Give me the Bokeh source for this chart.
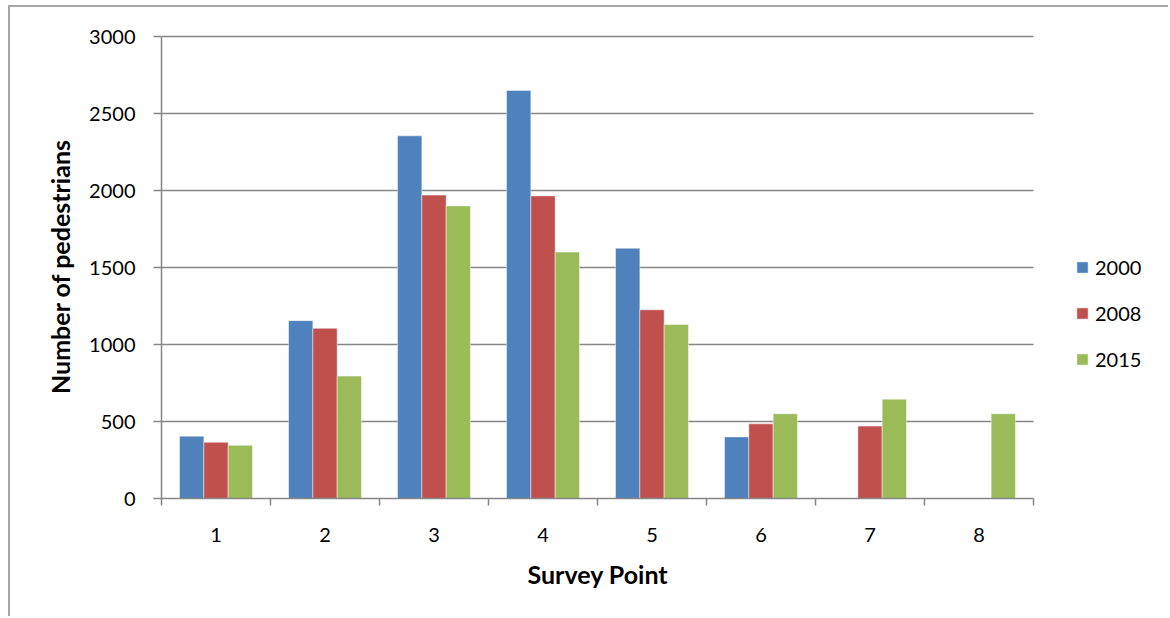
from bokeh.plotting import figure
from bokeh.models import (ColumnDataSource, FixedTicker, Legend, LegendItem,
                          Range1d, Title)
from bokeh.transform import dodge
from bokeh.embed import file_html
from bokeh.resources import INLINE

# Pedestrian counts per survey point
survey_points = [1, 2, 3, 4, 5, 6, 7, 8]
tick_labels = ["1", "2", "3", "4", "5", "6", "7", "8"]
nan = float("nan")
counts_2000 = [405, 1155, 2355, 2650, 1625, 400, nan, nan]
counts_2008 = [365, 1105, 1970, 1965, 1225, 485, 470, nan]
counts_2015 = [345, 795, 1900, 1600, 1130, 550, 645, 550]
years = ["2000", "2008", "2015"]
colors = ["#4F81BD", "#C0504D", "#9BBB59"]
y_ticks = [0, 500, 1000, 1500, 2000, 2500, 3000]

FONT = "Lato"
GREY = "#868686"
BAR_W = 0.223

# the plotting frame runs past the last category so that the legend
# can sit to the right of the bars; axis and grid stop at 8.5
PLOT_W, PLOT_H = 1160, 611
LEFT, TOP, BOTTOM = 151, 27, 120
CAT_PX = 109.0
X_END = 0.5 + (PLOT_W - LEFT) / CAT_PX
FRAME_H = PLOT_H - TOP - BOTTOM
Y_END = 3000 * FRAME_H / (FRAME_H - 2)

source = ColumnDataSource(dict(x=survey_points, y2000=counts_2000,
                               y2008=counts_2008, y2015=counts_2015))

p = figure(width=PLOT_W, height=PLOT_H, output_backend="svg", toolbar_location=None,
           x_range=Range1d(0.5, X_END), y_range=Range1d(0, Y_END),
           min_border_left=LEFT, min_border_right=0,
           min_border_top=TOP, min_border_bottom=BOTTOM,
           margin=(5, 0, 0, 8),
           styles={"border-left": "2px solid #a6a6a6",
                   "border-top": "2px solid #a6a6a6"})
p.outline_line_color = None
p.background_fill_color = "white"
p.border_fill_color = "white"

# horizontal grid lines across the category area only
grid_src = ColumnDataSource(dict(y=y_ticks[1:], x0=[0.5] * 6, x1=[8.5] * 6))
p.segment(x0="x0", x1="x1", y0="y", y1="y", source=grid_src,
          line_color=GREY, line_width=1.5)

# one dodged bar series per survey year
renderers = []
for i, (yr, col) in enumerate(zip(years, colors)):
    r = p.vbar(x=dodge("x", (i - 1) * BAR_W), top="y" + yr, bottom=0,
               width=BAR_W, source=source, fill_color=col,
               line_color="white", line_alpha=0.45, line_width=1)
    renderers.append(r)

# x axis: labels at category centres, tick marks between categories
p.xaxis.bounds = (0.5, 8.5)
p.xaxis.ticker = FixedTicker(ticks=survey_points,
                             minor_ticks=[k + 0.5 for k in range(0, 9)])
p.xaxis.major_label_overrides = {k: s for k, s in zip(survey_points, tick_labels)}
p.xaxis.major_tick_line_color = None
p.xaxis.major_tick_out = 0
p.xaxis.major_tick_in = 0
p.xaxis.minor_tick_line_color = GREY
p.xaxis.minor_tick_line_width = 1.5
p.xaxis.minor_tick_out = 7
p.xaxis.minor_tick_in = 0
p.xaxis.major_label_standoff = 22

p.yaxis.bounds = (0, 3000)
p.yaxis.ticker = FixedTicker(ticks=y_ticks)
p.yaxis.major_tick_line_color = GREY
p.yaxis.major_tick_line_width = 1.5
p.yaxis.major_tick_out = 8
p.yaxis.major_tick_in = 0
p.yaxis.minor_tick_line_color = None
p.yaxis.major_label_standoff = 18
p.yaxis.axis_label = "Number of pedestrians"
p.yaxis.axis_label_standoff = 11

for ax in (p.xaxis[0], p.yaxis[0]):
    ax.axis_line_color = GREY
    ax.axis_line_width = 1.5
    ax.major_label_text_font = FONT
    ax.major_label_text_font_size = "20px"
    ax.major_label_text_color = "black"
    ax.axis_label_text_font = FONT
    ax.axis_label_text_font_size = "25px"
    ax.axis_label_text_font_style = "bold"
    ax.axis_label_text_color = "black"

# x axis title, centred under the category area
x_title = Title(text="Survey Point", align="left", offset=366, standoff=24,
                text_font=FONT, text_font_size="25px", text_font_style="bold",
                text_color="black")
p.add_layout(x_title, "below")

p.xgrid.grid_line_color = None
p.ygrid.grid_line_color = None

legend = Legend(items=[LegendItem(label=yr, renderers=[r])
                       for yr, r in zip(years, renderers)],
                location=(914, 127), orientation="vertical",
                glyph_width=14, glyph_height=14, label_height=20,
                label_standoff=6, spacing=22, padding=0, margin=0,
                border_line_color=None, background_fill_alpha=0,
                label_text_font=FONT, label_text_font_size="20px",
                label_text_color="black")
p.add_layout(legend)

open("out.html", "w").write(file_html(p, INLINE))
